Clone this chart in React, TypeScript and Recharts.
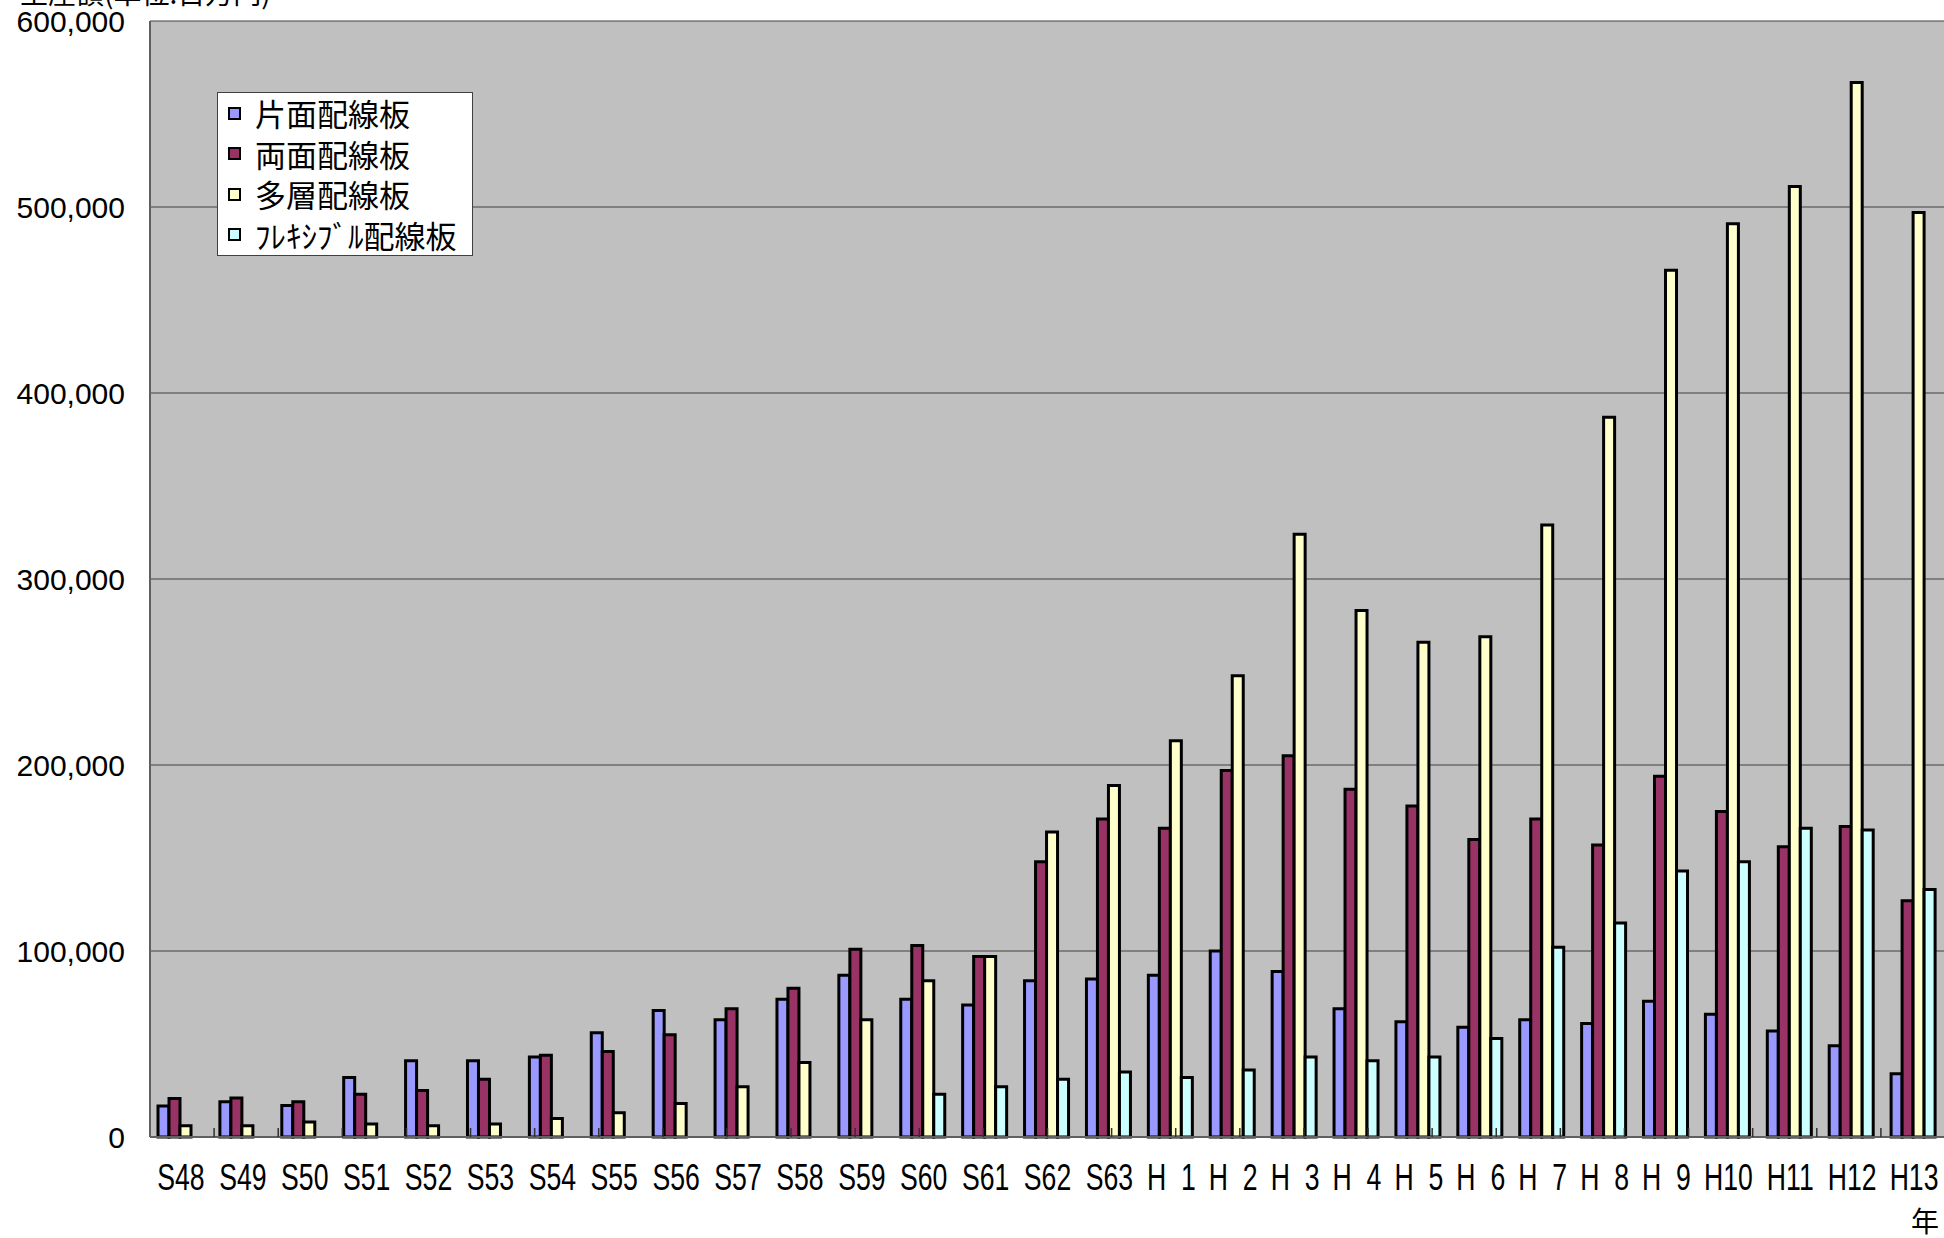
import React from 'react';
import { BarChart, Bar, XAxis, YAxis, CartesianGrid, Legend, Label } from 'recharts';

const years: string[] = [
  'S48', 'S49', 'S50', 'S51', 'S52', 'S53', 'S54', 'S55', 'S56', 'S57', 'S58', 'S59',
  'S60', 'S61', 'S62', 'S63',
  'H\u00a0\u00a01', 'H\u00a0\u00a02', 'H\u00a0\u00a03', 'H\u00a0\u00a04', 'H\u00a0\u00a05',
  'H\u00a0\u00a06', 'H\u00a0\u00a07', 'H\u00a0\u00a08', 'H\u00a0\u00a09',
  'H10', 'H11', 'H12', 'H13',
];

const singleSided: number[] = [
  16700, 19000, 17000, 32000, 41000, 41000, 43000, 56000, 68000, 63000, 74000, 87000,
  74000, 71000, 84000, 85000, 87000, 100000, 89000, 69000, 62000, 59000, 63000, 61000,
  73000, 66000, 57000, 49000, 34000,
];

const doubleSided: number[] = [
  20700, 21000, 19000, 23000, 25000, 31000, 44000, 46000, 55000, 69000, 80000, 101000,
  103000, 97000, 148000, 171000, 166000, 197000, 205000, 187000, 178000, 160000, 171000,
  157000, 194000, 175000, 156000, 167000, 127000,
];

const multiLayer: number[] = [
  6000, 6000, 8000, 7000, 6000, 7000, 10000, 13000, 18000, 27000, 40000, 63000,
  84000, 97000, 164000, 189000, 213000, 248000, 324000, 283000, 266000, 269000, 329000,
  387000, 466000, 491000, 511000, 567000, 497000,
];

const flexible: (number | null)[] = [
  null, null, null, null, null, null, null, null, null, null, null, null,
  23000, 27000, 31000, 35000, 32000, 36000, 43000, 41000, 43000, 53000, 102000,
  115000, 143000, 148000, 166000, 165000, 133000,
];

const yTicks: number[] = [0, 100000, 200000, 300000, 400000, 500000, 600000];

const seriesKeys = ['single', 'double', 'multi', 'flex'];
const seriesNames = ['片面配線板', '両面配線板', '多層配線板', 'ﾌﾚｷｼﾌﾞﾙ配線板'];
const seriesColors = ['#9999FF', '#993366', '#FFFFCC', '#CCFFFF'];

const data = years.map((year, i) => ({
  year,
  single: singleSided[i],
  double: doubleSided[i],
  multi: multiLayer[i],
  flex: flexible[i],
}));

const boundaryTicks = years.map((_, i) => i).concat([years.length]);

const NUM_FONT = '"Liberation Sans", Arial, sans-serif';
const JP_FONT = '"Noto Sans CJK JP", sans-serif';

const XTick = (props: any) => {
  const { x, y, payload } = props;
  return (
    <g transform={`translate(${x},${y + 40})`}>
      <text
        transform="scale(0.72,1)"
        textAnchor="middle"
        dominantBaseline="central"
        fontSize={37}
        fontFamily={NUM_FONT}
        fill="#000"
      >
        {payload.value}
      </text>
    </g>
  );
};

const EmptyTick = () => <g />;

const LegendBox = () => (
  <div
    style={{
      width: 256,
      height: 164,
      boxSizing: 'border-box',
      background: '#fff',
      border: '1px solid #404040',
      fontFamily: JP_FONT,
      fontSize: 31,
      color: '#000',
    }}
  >
    {seriesNames.map((name, i) => (
      <div
        key={name}
        style={{ height: 40.5, display: 'flex', alignItems: 'center', paddingLeft: 10, whiteSpace: 'nowrap' }}
      >
        <span
          style={{
            display: 'inline-block',
            width: 13,
            height: 13,
            boxSizing: 'border-box',
            border: '2px solid #000',
            background: seriesColors[i],
            marginRight: 14,
          }}
        />
        <span style={{ lineHeight: '40px' }}>{name}</span>
      </div>
    ))}
  </div>
);

const YTitle = (props: any) => {
  const vb = props.viewBox || { x: 0, y: 21 };
  return (
    <text x={vb.x + 20} y={vb.y - 17} fontSize={28} fontFamily={JP_FONT} fill="#000">
      生産額(単位:百万円)
    </text>
  );
};

export default function App() {
  return (
    <div
      style={{
        position: 'absolute',
        left: 0,
        top: 0,
        width: 1944,
        height: 1238,
        overflow: 'hidden',
        background: '#fff',
      }}
    >
      <BarChart
        width={1947}
        height={1238}
        data={data}
        margin={{ top: 21, right: 2, bottom: 0, left: 0 }}
        barCategoryGap={8}
        barGap={0}
      >
        <CartesianGrid vertical={false} fill="#C0C0C0" stroke="#404040" strokeWidth={1} />
        <XAxis
          dataKey="year"
          height={101}
          interval={0}
          tickLine={false}
          tickSize={0}
          tickMargin={0}
          axisLine={{ stroke: '#606060', strokeWidth: 2 }}
          tick={<XTick />}
        >
          <Label
            value="年"
            position="insideBottomRight"
            offset={6}
            fontSize={28}
            fontFamily={JP_FONT}
            fill="#000"
          />
        </XAxis>
        <XAxis
          xAxisId="bounds"
          type="number"
          domain={[0, years.length]}
          ticks={boundaryTicks}
          allowDataOverflow
          mirror
          height={1}
          axisLine={false}
          tickSize={9}
          tickLine={{ stroke: '#303030', strokeWidth: 1.5 }}
          tick={<EmptyTick />}
          interval={0}
        />
        <YAxis
          width={150}
          domain={[0, 600000]}
          ticks={yTicks}
          interval={0}
          tickLine={false}
          tickSize={0}
          tickMargin={25}
          axisLine={{ stroke: '#606060', strokeWidth: 2 }}
          tickFormatter={(v: number) => v.toLocaleString('en-US')}
          tick={{ fontSize: 30, fontFamily: NUM_FONT, fill: '#000' }}
        >
          <Label content={<YTitle />} position="insideTopLeft" />
        </YAxis>
        <Legend
          layout="vertical"
          align="center"
          verticalAlign="middle"
          content={<LegendBox />}
          wrapperStyle={{ position: 'absolute', left: 217, top: 92, width: 256, height: 164 }}
        />
        {seriesKeys.map((k, i) => (
          <Bar
            key={k}
            dataKey={k}
            name={seriesNames[i]}
            fill={seriesColors[i]}
            stroke="#000"
            strokeWidth={3}
            isAnimationActive={false}
          />
        ))}
      </BarChart>
    </div>
  );
}
